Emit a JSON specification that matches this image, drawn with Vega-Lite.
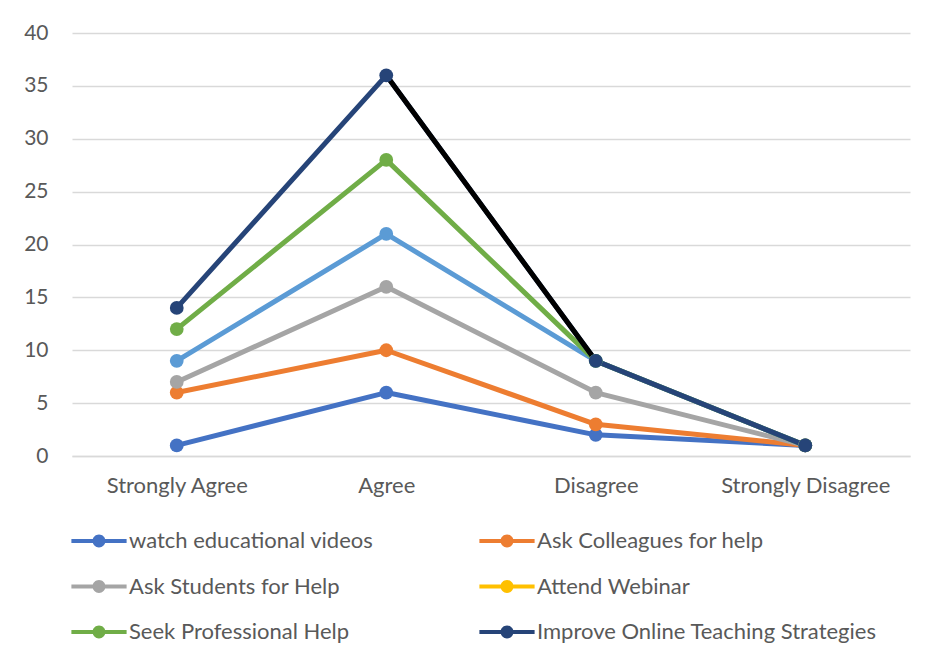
{
  "$schema": "https://vega.github.io/schema/vega-lite/v6.json",
  "width": 838,
  "height": 423,
  "autosize": {"type": "none"},
  "padding": {"left": 72, "top": 33, "right": 22, "bottom": 205},
  "background": "#ffffff",
  "config": {
    "font": "Lato",
    "view": {"stroke": null},
    "axis": {"labelColor": "#595959", "gridColor": "#D9D9D9", "gridWidth": 1.3, "ticks": false, "tickSize": 0}
  },
  "resolve": {"legend": {"color": "independent"}},
  "datasets": {
    "main": [
      {"cat": "Strongly Agree", "value": 1, "series": "watch educational videos"},
      {"cat": "Agree", "value": 6, "series": "watch educational videos"},
      {"cat": "Disagree", "value": 2, "series": "watch educational videos"},
      {"cat": "Strongly Disagree", "value": 1, "series": "watch educational videos"},
      {"cat": "Strongly Agree", "value": 6, "series": "Ask Colleagues for help"},
      {"cat": "Agree", "value": 10, "series": "Ask Colleagues for help"},
      {"cat": "Disagree", "value": 3, "series": "Ask Colleagues for help"},
      {"cat": "Strongly Disagree", "value": 1, "series": "Ask Colleagues for help"},
      {"cat": "Strongly Agree", "value": 7, "series": "Ask Students for Help"},
      {"cat": "Agree", "value": 16, "series": "Ask Students for Help"},
      {"cat": "Disagree", "value": 6, "series": "Ask Students for Help"},
      {"cat": "Strongly Disagree", "value": 1, "series": "Ask Students for Help"},
      {"cat": "Strongly Agree", "value": 9, "series": "Series 5"},
      {"cat": "Agree", "value": 21, "series": "Series 5"},
      {"cat": "Disagree", "value": 9, "series": "Series 5"},
      {"cat": "Strongly Disagree", "value": 1, "series": "Series 5"},
      {"cat": "Strongly Agree", "value": 12, "series": "Seek Professional Help"},
      {"cat": "Agree", "value": 28, "series": "Seek Professional Help"},
      {"cat": "Disagree", "value": 9, "series": "Seek Professional Help"},
      {"cat": "Strongly Disagree", "value": 1, "series": "Seek Professional Help"},
      {"cat": "Strongly Agree", "value": 14, "series": "Improve Online Teaching Strategies"},
      {"cat": "Agree", "value": 36, "series": "Improve Online Teaching Strategies"},
      {"cat": "Disagree", "value": 9, "series": "Improve Online Teaching Strategies"},
      {"cat": "Strongly Disagree", "value": 1, "series": "Improve Online Teaching Strategies"}
    ],
    "black": [
      {"cat": "Agree", "value": 36},
      {"cat": "Disagree", "value": 9}
    ]
  },
  "layer": [
    {
      "data": {"name": "main"},
      "mark": {"type": "line", "strokeWidth": 5, "strokeCap": "round", "strokeJoin": "round"},
      "encoding": {
        "x": {"field": "cat", "type": "nominal", "sort": ["Strongly Agree", "Agree", "Disagree", "Strongly Disagree"], "scale": {"padding": 0.5}, "axis": {"title": null, "labelAngle": 0, "labelFontSize": 22, "labelPadding": 19, "domainColor": "#D9D9D9", "domainWidth": 1.3, "grid": false}},
        "y": {"field": "value", "type": "quantitative", "scale": {"domain": [0, 40], "nice": false}, "axis": {"title": null, "labelFontSize": 21, "values": [0, 5, 10, 15, 20, 25, 30, 35, 40], "domain": false, "labelPadding": 24}},
        "color": {
          "field": "series", "type": "nominal",
          "scale": {
            "domain": ["watch educational videos", "Ask Colleagues for help", "Ask Students for Help", "Attend Webinar", "Series 5", "Seek Professional Help", "Improve Online Teaching Strategies"],
            "range": ["#4472C4", "#ED7D31", "#A5A5A5", "#FFC000", "#5B9BD5", "#70AD47", "#264478"]
          },
          "legend": null
        }
      }
    },
    {
      "data": {"name": "black"},
      "mark": {"type": "line", "strokeWidth": 5, "color": "#000000", "strokeCap": "round"},
      "encoding": {
        "x": {"field": "cat", "type": "nominal", "sort": ["Strongly Agree", "Agree", "Disagree", "Strongly Disagree"]},
        "y": {"field": "value", "type": "quantitative"}
      }
    },
    {
      "data": {"name": "main"},
      "mark": {"type": "point", "filled": true, "size": 190, "opacity": 1},
      "encoding": {
        "x": {"field": "cat", "type": "nominal", "sort": ["Strongly Agree", "Agree", "Disagree", "Strongly Disagree"]},
        "y": {"field": "value", "type": "quantitative"},
        "color": {
          "field": "series", "type": "nominal",
          "legend": {
            "title": null,
            "orient": "none",
            "legendX": 15,
            "legendY": 496,
            "direction": "horizontal",
            "columns": 2,
            "values": ["watch educational videos", "Ask Colleagues for help", "Ask Students for Help", "Attend Webinar", "Seek Professional Help", "Improve Online Teaching Strategies"],
            "symbolType": "M-2.3,-0.17H2.3V0.17H-2.3Z M0.54,0 A0.54,0.54 0 1,1 -0.54,0 A0.54,0.54 0 1,1 0.54,0Z",
            "symbolSize": 576,
            "symbolStrokeWidth": 0,
            "symbolOpacity": 1,
            "labelOffset": 18,
            "labelFontSize": 22,
            "labelColor": "#595959",
            "labelLimit": 400,
            "rowPadding": 22.5,
            "columnPadding": 105
          }
        }
      }
    }
  ]
}
